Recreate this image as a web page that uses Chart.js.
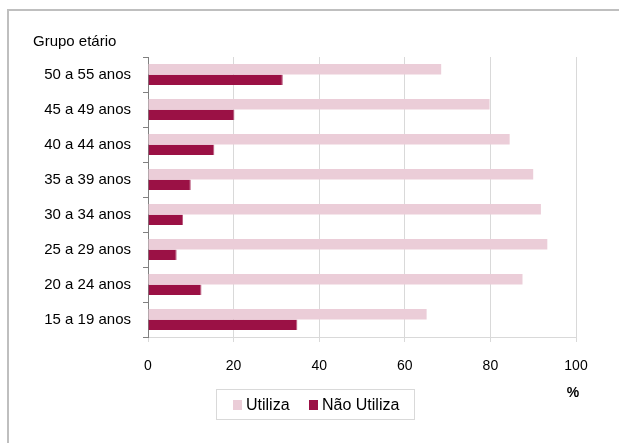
<!DOCTYPE html>
<html>
<head>
<meta charset="utf-8">
<script src="https://cdn.jsdelivr.net/npm/chart.js@4/dist/chart.umd.min.js"></script>
<style>
  html, body { margin: 0; padding: 0; background: #fff; }
  #wrap { position: relative; width: 619px; height: 443px; }
</style>
</head>
<body>
<div id="wrap"><canvas id="chart" width="619" height="443"></canvas></div>
<script>
// age groups, top to bottom as in the picture
const ageGroups = ['50 a 55 anos', '45 a 49 anos', '40 a 44 anos', '35 a 39 anos',
                   '30 a 34 anos', '25 a 29 anos', '20 a 24 anos', '15 a 19 anos'];
const utiliza    = [68.5, 79.8, 84.5, 90.0, 91.8, 93.3, 87.5, 65.1];
const naoUtiliza = [31.5, 20.2, 15.5, 10.0, 8.2, 6.7, 12.5, 34.9];
const xTicks = [0, 20, 40, 60, 80, 100];

const FONT = "'Liberation Sans', Arial, sans-serif";
const PINK = '#ebcdd8';
const WINE = '#9b1145';

// frame, axis titles and the boxed legend
const extras = {
    id: 'extras',
    beforeDraw(chart) {
        const ctx = chart.ctx;
        ctx.save();
        ctx.fillStyle = '#fff';
        ctx.fillRect(0, 0, chart.width, chart.height);
        ctx.fillStyle = '#bfbfbf';
        ctx.fillRect(7, 9, 2, chart.height - 9);
        ctx.fillRect(7, 9, chart.width - 7, 2);
        ctx.restore();
    },
    afterDraw(chart) {
        const ctx = chart.ctx;
        const area = chart.chartArea;
        ctx.save();
        ctx.fillStyle = '#000';
        ctx.textBaseline = 'middle';

        ctx.font = '15px ' + FONT;
        ctx.textAlign = 'left';
        ctx.fillText('Grupo etário', 33, area.top - 15);

        ctx.font = 'bold 14px ' + FONT;
        ctx.textAlign = 'center';
        ctx.fillText('%', area.right - 3, 393);

        // legend
        ctx.strokeStyle = '#d9d9d9';
        ctx.lineWidth = 1;
        ctx.strokeRect(216.5, 389.5, 198, 30);
        ctx.font = '16px ' + FONT;
        ctx.textAlign = 'left';
        const itemX = [233, 309];
        chart.data.datasets.forEach((ds, i) => {
            ctx.fillStyle = ds.backgroundColor;
            ctx.fillRect(itemX[i], 400, 9, 10);
            ctx.fillStyle = '#000';
            ctx.fillText(ds.label, itemX[i] + 13, 406);
        });
        ctx.restore();
    }
};

new Chart(document.getElementById('chart'), {
    type: 'bar',
    data: {
        labels: ageGroups,
        datasets: [
            { label: 'Utiliza', data: utiliza, backgroundColor: PINK },
            { label: 'Não Utiliza', data: naoUtiliza, backgroundColor: WINE,
              borderColor: '#b8577b', borderWidth: { top: 0, bottom: 0, left: 0, right: 1 } }
        ]
    },
    options: {
        indexAxis: 'y',
        responsive: false,
        devicePixelRatio: 1,
        animation: false,
        categoryPercentage: 0.6,
        barPercentage: 1.0,
        layout: { padding: { left: 0, right: 43, top: 57, bottom: 0 } },
        plugins: { legend: { display: false }, tooltip: { enabled: false } },
        scales: {
            x: {
                min: 0, max: 100,
                afterBuildTicks: s => { s.ticks = xTicks.map(v => ({ value: v })); },
                afterFit: s => { s.height = 106; },
                grid: {
                    color: c => c.tick && c.tick.value === 0 ? 'rgba(0,0,0,0)' : '#d9d9d9',
                    tickColor: '#d9d9d9',
                    tickLength: 5
                },
                border: { color: '#d9d9d9' },
                ticks: { color: '#000', font: { family: FONT, size: 14 }, padding: 16 }
            },
            y: {
                afterFit: s => { s.width = 148; },
                grid: {
                    drawOnChartArea: false,
                    offset: true,
                    tickColor: '#808080',
                    tickLength: 5
                },
                border: { color: '#808080' },
                ticks: { color: '#000', font: { family: FONT, size: 15 }, padding: 12 }
            }
        }
    },
    plugins: [extras]
});
</script>
</body>
</html>
